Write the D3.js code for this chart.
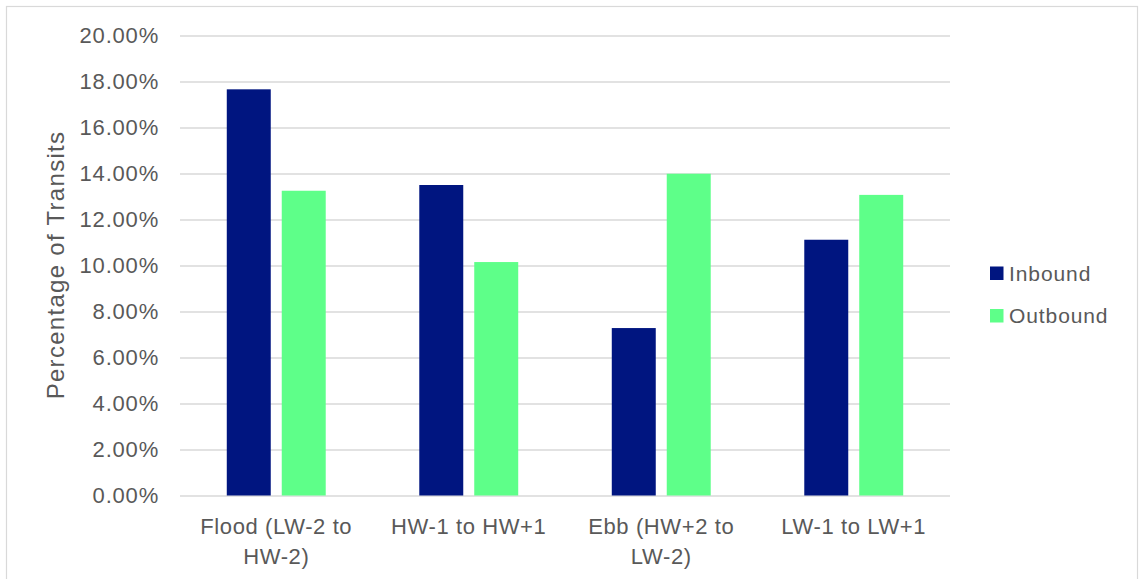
<!DOCTYPE html>
<html>
<head>
<meta charset="utf-8">
<script src="https://cdn.jsdelivr.net/npm/d3@7"></script>
<style>
  html, body { margin: 0; padding: 0; background: #fff; }
  svg { display: block; font-family: "Liberation Sans", Arial, sans-serif; }
</style>
</head>
<body>
<svg id="chart" width="1141" height="579"></svg>
<script>
// Share of transits per tidal window, by direction
const categories = [
  ["Flood (LW-2 to", "HW-2)"],
  ["HW-1 to HW+1"],
  ["Ebb (HW+2 to", "LW-2)"],
  ["LW-1 to LW+1"]
];
const seriesNames = ["Inbound", "Outbound"];
const inbound  = [0.1766, 0.1350, 0.0728, 0.1112];
const outbound = [0.1325, 0.1015, 0.1399, 0.1307];
const yTicks = [0, 0.02, 0.04, 0.06, 0.08, 0.10, 0.12, 0.14, 0.16, 0.18, 0.20];
const colors = ["#001580", "#5eff89"];

const svg = d3.select("#chart");
const textColor = "#595959";

// outer chart frame
svg.append("rect")
  .attr("x", 6.5).attr("y", 6.5)
  .attr("width", 1131).attr("height", 590)
  .attr("fill", "#fff").attr("stroke", "#d9d9d9").attr("stroke-width", 1.2);

const plot = { left: 180, right: 950, top: 35.5, bottom: 495.5 };

const y = d3.scaleLinear().domain([0, 0.20]).range([plot.bottom, plot.top]);
const x0 = d3.scaleBand()
  .domain(d3.range(categories.length))
  .range([plot.left, plot.right])
  .paddingInner(0.486).paddingOuter(0.243);
const x1 = d3.scaleBand()
  .domain(seriesNames)
  .range([0, x0.bandwidth()])
  .paddingInner(0.2);

// horizontal gridlines and tick labels
const yAxis = d3.axisLeft(y)
  .tickValues(yTicks)
  .tickSize(-(plot.right - plot.left))
  .tickPadding(21)
  .tickFormat(d => (d * 100).toFixed(2) + "%");

const gy = svg.append("g")
  .attr("transform", `translate(${plot.left},0)`)
  .call(yAxis);
gy.select(".domain").remove();
gy.selectAll(".tick line").attr("stroke", "#d9d9d9").attr("stroke-width", 1.5);
gy.selectAll(".tick text")
  .attr("fill", textColor)
  .attr("font-size", 22)
  .attr("letter-spacing", 0.8)
  .attr("font-family", "Liberation Sans, Arial, sans-serif");

// bars
const rows = categories.map((c, i) => ({ i, values: [inbound[i], outbound[i]] }));
const groups = svg.append("g").selectAll("g")
  .data(rows).join("g")
  .attr("transform", d => `translate(${x0(d.i)},0)`);
groups.selectAll("rect")
  .data(d => d.values.map((v, k) => ({ key: seriesNames[k], v, k })))
  .join("rect")
  .attr("x", d => x1(d.key))
  .attr("width", x1.bandwidth())
  .attr("y", d => y(d.v))
  .attr("height", d => y(0) - y(d.v))
  .attr("fill", d => colors[d.k]);

// category labels (wrapped over up to two lines)
const gx = svg.append("g");
rows.forEach(d => {
  const t = gx.append("text")
    .attr("x", x0(d.i) + x0.bandwidth() / 2)
    .attr("y", 534)
    .attr("text-anchor", "middle")
    .attr("fill", textColor)
    .attr("font-size", 22)
    .attr("letter-spacing", 0.6);
  categories[d.i].forEach((line, j) => {
    t.append("tspan")
      .attr("x", x0(d.i) + x0.bandwidth() / 2)
      .attr("dy", j === 0 ? 0 : 30)
      .text(line);
  });
});

// y-axis title
svg.append("text")
  .attr("transform", "translate(64,265) rotate(-90)")
  .attr("text-anchor", "middle")
  .attr("fill", textColor)
  .attr("font-size", 24)
  .attr("letter-spacing", 1.3)
  .text("Percentage of Transits");

// legend
const legend = svg.append("g").attr("transform", "translate(990,266.5)");
seriesNames.forEach((name, k) => {
  const g = legend.append("g").attr("transform", `translate(0,${k * 42.5})`);
  g.append("rect")
    .attr("width", 13.5).attr("height", 13.5)
    .attr("fill", colors[k]);
  g.append("text")
    .attr("x", 19).attr("y", 14)
    .attr("fill", textColor)
    .attr("font-size", 21)
    .attr("letter-spacing", 0.9)
    .text(name);
});
</script>
</body>
</html>
